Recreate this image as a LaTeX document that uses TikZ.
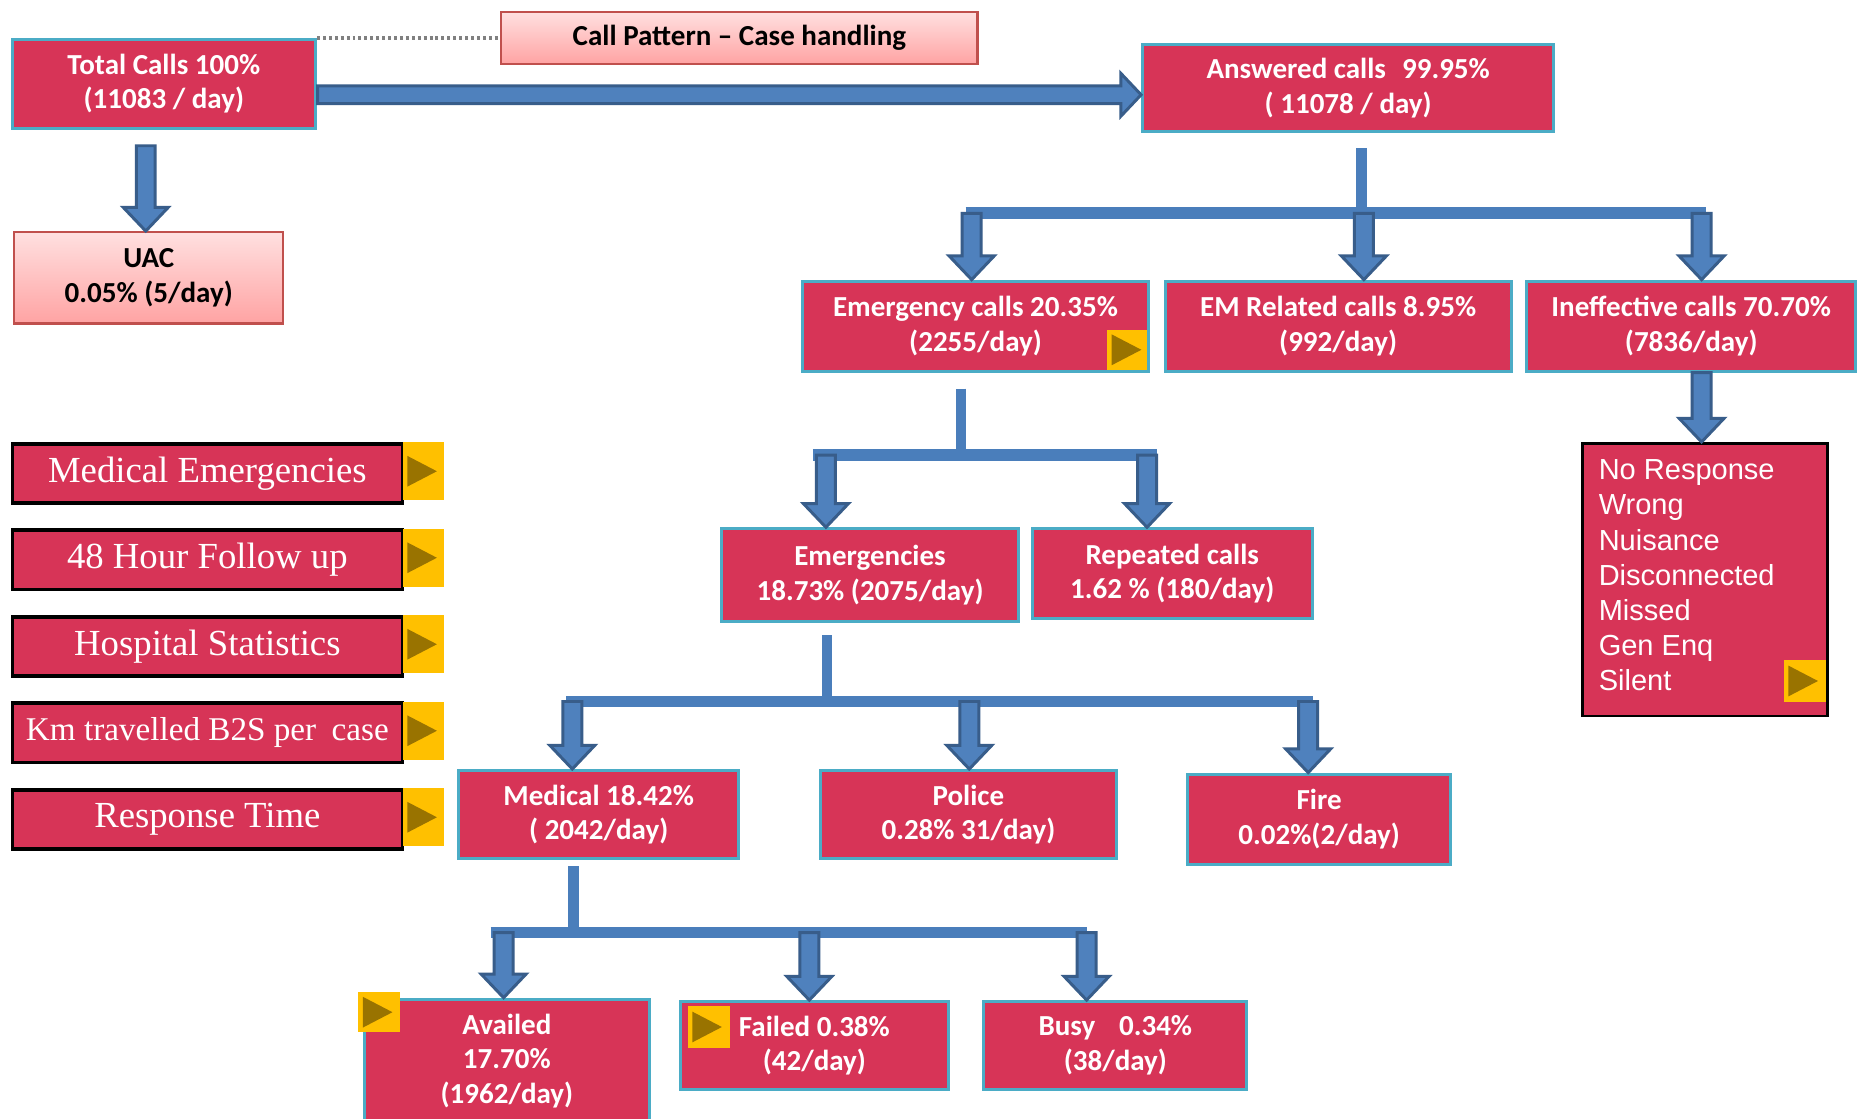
\documentclass[tikz,border=0pt]{standalone}
\usepackage{fontspec}
\setmainfont{Carlito}
\newfontfamily\menufont{Liberation Serif}
\newfontfamily\listfont{Liberation Sans}
\usetikzlibrary{calc}

\definecolor{crim}{RGB}{215,52,87}
\definecolor{lblue}{RGB}{75,172,198}
\definecolor{afill}{RGB}{79,129,189}
\definecolor{aedge}{RGB}{56,93,138}
\definecolor{barc}{RGB}{74,126,187}
\definecolor{pinktop}{RGB}{255,224,224}
\definecolor{pinkbot}{RGB}{255,163,163}
\definecolor{pinkedge}{RGB}{192,80,77}
\definecolor{btnfill}{RGB}{255,192,0}
\definecolor{btntri}{RGB}{153,115,0}

\tikzset{
  basebox/.style={rectangle, anchor=north west, inner sep=0pt, align=center, line width=2.5pt},
  cbox/.style={basebox, fill=crim, draw=lblue, text=white,
    font=\bfseries\fontsize{24.5}{29}\selectfont},
  pbox/.style={basebox, top color=pinktop, bottom color=pinkbot, draw=pinkedge,
    line width=2pt, text=black, font=\bfseries\fontsize{24.5}{29}\selectfont},
  menubox/.style={basebox, fill=crim, draw=black, line width=3pt, text=white,
    font=\menufont\fontsize{31}{36}\selectfont, minimum width=329pt, minimum height=50pt},
  listbox/.style={basebox, fill=crim, draw=black, line width=2.5pt},
  btn/.style={rectangle, anchor=north west, inner sep=0pt, fill=btnfill,
    path picture={\fill[btntri]
      ([xshift=4pt,yshift=13pt]path picture bounding box.west) --
      ([xshift=29pt]path picture bounding box.west) --
      ([xshift=4pt,yshift=-13pt]path picture bounding box.west) -- cycle;}},
  wh/.style 2 args={minimum width=#1pt, minimum height=#2pt},
  barrow/.style={fill=afill, draw=aedge, line width=2.5pt, line join=miter},
  stem/.style={draw=barc, line width=9pt},
  bar/.style={draw=barc, line width=10pt},
  dotline/.style={draw=gray, line width=3pt, dash pattern=on 2.5pt off 2.5pt},
}

% block arrow pointing down, from #1 to #2 (x taken from #1)
\newcommand\blockdown[2]{%
  \path[barrow] let \p1=(#1), \p2=(#2) in
    (\x1-8pt,\y1) -- (\x1+8pt,\y1) -- (\x1+8pt,\y2+20pt) -- (\x1+19pt,\y2+20pt)
    -- (\x1,\y2) -- (\x1-19pt,\y2+20pt) -- (\x1-8pt,\y2+20pt) -- cycle;}
% block arrow pointing right, from #1 to #2 (y taken from #1)
\newcommand\blockright[2]{%
  \path[barrow] let \p1=(#1), \p2=(#2) in
    (\x1,\y1+7.5pt) -- (\x2-17pt,\y1+7.5pt) -- (\x2-17pt,\y1+18pt) -- (\x2,\y1)
    -- (\x2-17pt,\y1-18pt) -- (\x2-17pt,\y1-7.5pt) -- (\x1,\y1-7.5pt) -- cycle;}

\begin{document}
\begin{tikzpicture}[x=1pt,y=-1pt]
\useasboundingbox (0,0) rectangle (1568,944);
\fill[white] (0,0) rectangle (1568,944);
\clip (0,0) rectangle (1568,944);

% heading and top level
\node[pbox, wh={402}{44}] (title) at (422,9) {Call Pattern -- Case handling};
\node[cbox, wh={256}{75}] (tot) at (9,32) {Total Calls 100\%\\(11083 / day)};
\node[pbox, wh={227}{77}] (uac) at (11,195) {UAC\\0.05\% (5/day)};
\node[cbox, wh={347}{74}] (ans) at (963,36) {Answered calls\hspace{8pt} 99.95\%\\( 11078 / day)};

% answered calls split
\node[cbox, wh={292}{76}] (emc) at (676,236) {Emergency calls 20.35\%\\(2255/day)};
\node[cbox, wh={292}{76}] (emr) at (982,236) {EM Related calls 8.95\%\\(992/day)};
\node[cbox, wh={278}{76}] (ine) at (1287,236) {Ineffective calls 70.70\%\\(7836/day)};

% ineffective call types
\node[listbox, wh={207}{230}] (lst) at (1334,373) {};
\node[anchor=west, inner sep=0pt, align=left, text=white,
      font=\listfont\fontsize{24.5}{29.7}\selectfont] (lsttxt)
      at ([xshift=15pt,yshift=3.7pt]lst.west)
      {No Response\\Wrong\\Nuisance\\Disconnected\\Missed\\Gen Enq\\Silent};

% emergency calls split
\node[cbox, wh={250}{78}] (eme) at (608,445) {Emergencies\\18.73\% (2075/day)};
\node[cbox, wh={236}{76}] (rep) at (870,445) {Repeated calls\\1.62 \% (180/day)};

% emergencies split
\node[cbox, wh={236}{74}] (med) at (386,649) {Medical 18.42\%\\( 2042/day)};
\node[cbox, wh={250}{74}] (pol) at (691,649) {Police\\0.28\% 31/day)};
\node[cbox, wh={222}{76}] (fir) at (1001,652) {Fire\\0.02\%(2/day)};

% medical split
\node[cbox, wh={241}{104}] (ava) at (306,842) {Availed\\17.70\%\\(1962/day)};
\node[cbox, wh={226}{74}] (fai) at (573,844) {Failed 0.38\%\\(42/day)};
\node[cbox, wh={222}{74}] (bus) at (829,844) {Busy\hspace{20pt}0.34\%\\(38/day)};

% side menu
\node[menubox] (m1) at (9,373) {Medical Emergencies};
\node[menubox] (m2) at (9,446) {48 Hour Follow up};
\node[menubox] (m3) at (9,519) {Hospital Statistics};
\node[menubox, font=\menufont\fontsize{28}{34}\selectfont] (m4) at (9,592)
  {Km travelled B2S per\hspace{6pt} case};
\node[menubox] (m5) at (9,665) {Response Time};

% dotted link to the heading
\draw[dotline] (tot.north east) -- (tot.north east -| title.west);

% total -> answered, total -> UAC
\coordinate (h0) at (268,80);
\blockright{h0}{h0 -| ans.west}
\coordinate (v0) at (123,123);
\blockdown{v0}{v0 |- uac.north}

% answered -> three groups
\coordinate (j1) at (1149,125);
\coordinate (j1b) at (1149,180);
\draw[stem] (j1) -- (j1b);
\coordinate (bar1l) at (815,180);
\coordinate (bar1r) at (1440,180);
\draw[bar] (bar1l) -- (bar1r);
\coordinate (a1) at (820,180);
\coordinate (a2) at (1151,180);
\coordinate (a3) at (1436,180);
\blockdown{a1}{a1 |- emc.north}
\blockdown{a2}{a2 |- emr.north}
\blockdown{a3}{a3 |- ine.north}

% ineffective -> list
\coordinate (a4) at (a3 |- ine.south);
\blockdown{a4}{a4 |- lst.north}

% emergency calls -> emergencies / repeated
\coordinate (j2) at (811,328);
\coordinate (j2b) at (811,384);
\draw[stem] (j2) -- (j2b);
\coordinate (bar2l) at (686,384);
\coordinate (bar2r) at (976,384);
\draw[bar] (bar2l) -- (bar2r);
\coordinate (a5) at (697,384);
\coordinate (a6) at (968,384);
\blockdown{a5}{a5 |- eme.north}
\blockdown{a6}{a6 |- rep.north}

% emergencies -> medical / police / fire
\coordinate (j3) at (698,536);
\coordinate (j3b) at (698,592);
\draw[stem] (j3) -- (j3b);
\coordinate (bar3l) at (478,592);
\coordinate (bar3r) at (1108,592);
\draw[bar] (bar3l) -- (bar3r);
\coordinate (a7) at (483,592);
\coordinate (a8) at (818,592);
\coordinate (a9) at (1104,592);
\blockdown{a7}{a7 |- med.north}
\blockdown{a8}{a8 |- pol.north}
\blockdown{a9}{a9 |- fir.north}

% medical -> availed / failed / busy
\coordinate (j4) at (484,731);
\coordinate (j4b) at (484,787);
\draw[stem] (j4) -- (j4b);
\coordinate (bar4l) at (414,787);
\coordinate (bar4r) at (917,787);
\draw[bar] (bar4l) -- (bar4r);
\coordinate (a10) at (425,787);
\coordinate (a11) at (683,787);
\coordinate (a12) at (917,787);
\blockdown{a10}{a10 |- ava.north}
\blockdown{a11}{a11 |- fai.north}
\blockdown{a12}{a12 |- bus.north}

% action buttons
\node[btn, wh={35}{49}] (b1) at (339.5,373) {};
\node[btn, wh={35}{49}] (b2) at (339.5,446) {};
\node[btn, wh={35}{49}] (b3) at (339.5,519) {};
\node[btn, wh={35}{49}] (b4) at (339.5,592) {};
\node[btn, wh={35}{49}] (b5) at (339.5,665) {};
\node[btn, wh={34}{34}] (b6) at (934,278) {};
\node[btn, wh={36}{35}] (b7) at (1505,557) {};
\node[btn, wh={35}{34}] (b8) at (302,837) {};
\node[btn, wh={36}{35}] (b9) at (580,849) {};
\end{tikzpicture}
\end{document}
